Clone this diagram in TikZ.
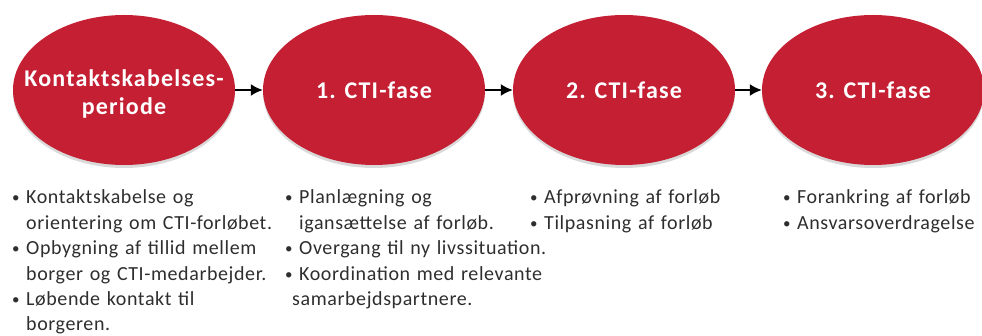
\documentclass[tikz,border=0pt]{standalone}
\usepackage{fontspec}
\setmainfont{Carlito}
\newfontfamily\phasefont[LetterSpace=5]{Carlito}
\newfontfamily\listfont[LetterSpace=3]{Carlito}
\usetikzlibrary{shapes.geometric,arrows.meta,shadows}
\definecolor{phasered}{RGB}{196,31,50}
\tikzset{
  phase/.style={ellipse, fill=phasered, minimum width=222pt, minimum height=150pt, inner sep=0pt,
    text=white, font=\phasefont\fontsize{24}{28}\selectfont\bfseries, align=center,
    drop shadow={shadow xshift=0pt, shadow yshift=-3pt, opacity=0.25, fill=black!60}},
  flow/.style={draw=black, line width=1.7pt, -{Latex[length=12pt,width=12pt]}},
  blist/.style={anchor=base west, inner sep=0pt, text width=320pt, align=left,
    font=\listfont\fontsize{20}{25.4}\selectfont, text=black!82}
}
\newcommand{\bl}{\makebox[14pt][l]{\raisebox{1pt}{\fontsize{15}{15}\selectfont\textbullet}}}
\newcommand{\ind}{\hspace*{14pt}}
\begin{document}
\begin{tikzpicture}[x=1pt,y=-1pt]
\useasboundingbox (0,0) rectangle (982,336);
\node[phase] (p0) at (124,90) {\rule{0pt}{24pt}\makebox[0pt]{Kontaktskabelses-}\\[0pt]\makebox[0pt]{periode}};
\node[phase] (p1) at (374,90) {1. CTI-fase};
\node[phase] (p2) at (624,90) {2. CTI-fase};
\node[phase] (p3) at (873,90) {3. CTI-fase};
\draw[flow] (p0) -- (p1);
\draw[flow] (p1) -- (p2);
\draw[flow] (p2) -- (p3);
\node[blist] (l0) at (12,204) {\bl Kontaktskabelse og\\ \ind orientering om CTI-forløbet.\\ \bl Opbygning af tillid mellem\\ \ind borger og CTI-medarbejder.\\ \bl Løbende kontakt til\\ \ind borgeren.};
\node[blist] (l1) at (285,204) {\bl Planlægning og\\ \ind igansættelse af forløb.\\ \bl Overgang til ny livssituation.\\ \bl Koordination med relevante\\ \hspace*{7pt}samarbejdspartnere.};
\node[blist] (l2) at (530,204) {\bl Afprøvning af forløb\\ \bl Tilpasning af forløb};
\node[blist] (l3) at (783,204) {\bl Forankring af forløb\\ \bl Ansvarsoverdragelse};
\end{tikzpicture}
\end{document}
